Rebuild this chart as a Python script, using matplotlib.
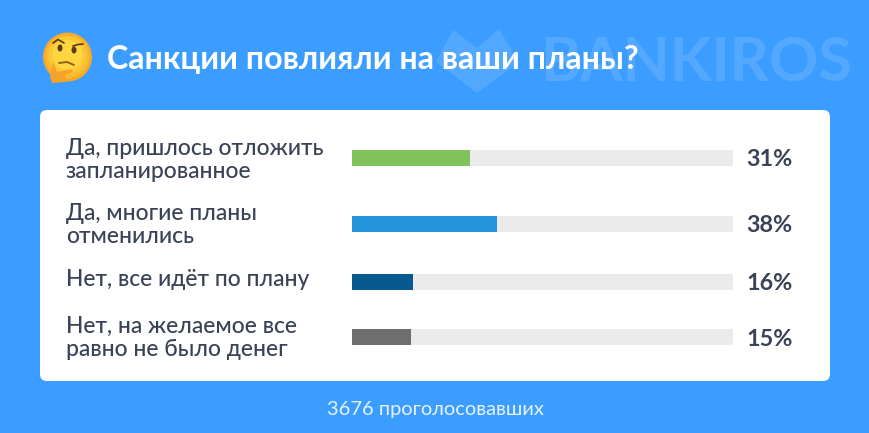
import matplotlib
matplotlib.use('Agg')
import matplotlib.pyplot as plt
from matplotlib.patches import FancyBboxPatch, Polygon, Ellipse

plt.rcParams['font.family'] = ['Lato', 'Noto Sans', 'DejaVu Sans']

title = 'Санкции повлияли на ваши планы?'
footer = '3676 проголосовавших'
labels = ['Да, пришлось отложить\nзапланированное',
          'Да, многие планы\nотменились',
          'Нет, все идёт по плану',
          'Нет, на желаемое все\nравно не было денег']
values = [31, 38, 16, 15.4]
pct_labels = ['31%', '38%', '16%', '15%']
colors = ['#7fc35a', '#2394dc', '#08598f', '#6e6e6e']
row_y = [158, 224, 282, 337]
label_y = [160, 225, 280, 338]

W, H = 870, 433
fig = plt.figure(figsize=(W / 100, H / 100), dpi=100, facecolor='#3b9dff')

# whole picture in pixel coordinates
bg = fig.add_axes([0, 0, 1, 1])
bg.set_xlim(0, W)
bg.set_ylim(H, 0)
bg.axis('off')

# watermark
bg.add_patch(Polygon([(436, 62), (453, 30), (477, 48), (499, 29), (519, 62), (477, 93)],
                     closed=True, fc='white', alpha=0.12, lw=0))
bg.text(540, 63, 'BANKIROS', color='white', alpha=0.13, fontsize=44, fontweight='bold',
        va='center', ha='left')

# card
bg.add_patch(FancyBboxPatch((40, 110), 790, 271, boxstyle='round,pad=0,rounding_size=7',
                            fc='white', ec='none'))

bg.text(107, 59, title, color='white', fontsize=23.1, fontweight='bold', va='center', ha='left')
bg.text(435, 409, footer, color='#e6f2ff', fontsize=14.4, va='center', ha='center')

# thinking face
for d, c in zip([49, 44, 38, 30], ['#f7a827', '#fbb92f', '#fdc838', '#fed640']):
    bg.add_patch(Ellipse((67.5, 57 - (49 - d) * 0.12), d, d, fc=c, ec='none'))
bg.add_patch(Ellipse((60, 48), 5, 7, fc='#5a3b17', ec='none'))
bg.add_patch(Ellipse((74, 50), 5, 7, fc='#5a3b17', ec='none'))
bg.plot([53, 58, 64], [43, 39.5, 43], color='#5a3b17', lw=1.2, solid_capstyle='round')
bg.plot([73, 78, 83], [46, 44.5, 44], color='#5a3b17', lw=1.2, solid_capstyle='round')
bg.plot([59, 67, 74], [63, 62, 65], color='#8a5a1c', lw=1.3, solid_capstyle='round')
bg.add_patch(Polygon([(50, 77), (53, 62), (57, 72), (72, 69), (73, 72), (65, 75), (66, 82), (52, 83)],
                     closed=True, fc='#f6a12a', ec='none'))

# bars
ax = fig.add_axes([0, 0, 1, 1], sharey=bg)
ax.patch.set_alpha(0)
ax.set_xlim(-352 / 381 * 100, (W - 352) / 381 * 100)
ax.axis('off')
ax.barh(row_y, [100] * 4, height=16, color='#ebebeb', lw=0)
ax.barh(row_y, values, height=16, color=colors, lw=0)

for y, ly, lab, pct in zip(row_y, label_y, labels, pct_labels):
    bg.text(66, ly, lab, color='#3a4257', fontsize=16.5, fontweight='medium', va='center', ha='left',
            linespacing=1.08)
    bg.text(746, y + 2, pct, color='#3a4257', fontsize=16.8, fontweight='bold',
            va='center', ha='left')

fig.savefig('out.png', dpi=100, facecolor=fig.get_facecolor())
